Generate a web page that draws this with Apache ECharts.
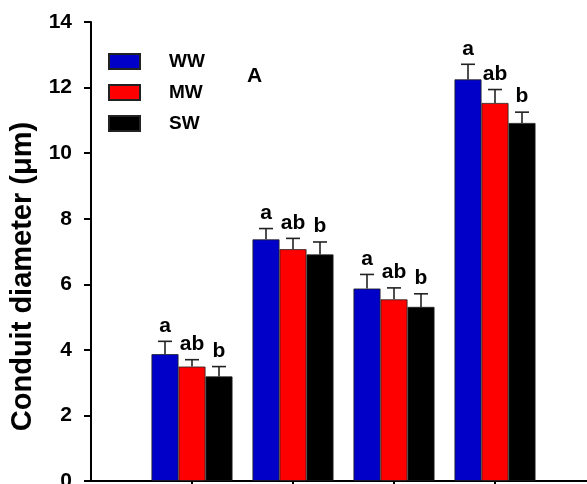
<!DOCTYPE html>
<html>
<head>
<meta charset="utf-8">
<script src="https://cdn.jsdelivr.net/npm/echarts@6/dist/echarts.min.js"></script>
<style>html,body{margin:0;padding:0;background:#fff}#c{width:587px;height:484px}</style>
</head>
<body>
<div id="c"></div>
<script>
// ---- data ----
const categories = ['G1', 'G2', 'G3', 'G4'];
const treatments = ['WW', 'MW', 'SW'];
const wwMean = [3.87, 7.37, 5.87, 12.25];
const wwErr  = [0.39, 0.33, 0.43, 0.46];
const mwMean = [3.49, 7.07, 5.54, 11.53];
const mwErr  = [0.21, 0.33, 0.35, 0.41];
const swMean = [3.19, 6.91, 5.31, 10.92];
const swErr  = [0.30, 0.38, 0.40, 0.33];
const letters = ['a', 'ab', 'b'];
const yTicks = { min: 0, max: 14, interval: 2 };
const panelLabel = 'A';
const yTitle = 'Conduit diameter (\u03bcm)';

// ---- style ----
const FONT = '"Liberation Sans", Arial, sans-serif';
const colors = ['#0000c8', '#ff0000', '#000000'];
const BAR_W = 27;
const means = [wwMean, mwMean, swMean];
const errs = [wwErr, mwErr, swErr];

const barSeries = treatments.map((t, k) => ({
  name: t, type: 'bar', xAxisIndex: 0, yAxisIndex: 0,
  barWidth: BAR_W, barGap: '0%',
  itemStyle: { color: colors[k], borderColor: '#222', borderWidth: 0.8 },
  data: means[k], z: 2
}));

const errSeries = treatments.map((t, k) => ({
  type: 'custom', xAxisIndex: 0, yAxisIndex: 0, z: 5,
  data: categories.map((c, i) => [i, means[k][i], means[k][i] + errs[k][i]]),
  renderItem: function (params, api) {
    const off = (k - 1) * BAR_W;
    const p0 = api.coord([api.value(0), api.value(1)]);
    const p1 = api.coord([api.value(0), api.value(2)]);
    const x = p0[0] + off;
    const st = { stroke: '#222', lineWidth: 1.6 };
    return { type: 'group', children: [
      { type: 'line', shape: { x1: x, y1: p0[1], x2: x, y2: p1[1] }, style: st },
      { type: 'line', shape: { x1: x - 7, y1: p1[1], x2: x + 7, y2: p1[1] }, style: st },
      { type: 'text', style: { text: letters[k], x: x, y: p1[1] - 5, align: 'center', verticalAlign: 'bottom',
          font: 'bold 21px ' + FONT, fill: '#000' } }
    ]};
  }
}));

const chart = echarts.init(document.getElementById('c'), null, { renderer: 'canvas' });
chart.setOption({
  animation: false,
  backgroundColor: '#fff',
  title: { text: panelLabel, left: 247, top: 66, padding: 0,
    textStyle: { fontFamily: FONT, fontWeight: 'bold', fontSize: 21, color: '#000' } },
  legend: {
    data: treatments, orient: 'vertical', left: 108, top: 52, padding: 0,
    itemWidth: 31, itemHeight: 15, itemGap: 12, icon: 'rect',
    textStyle: { fontFamily: FONT, fontWeight: 'bold', fontSize: 19, color: '#000', padding: [0, 0, 0, 24] }
  },
  grid: [
    { left: 141.5, right: 41.5, top: 22, bottom: 3, outerBoundsMode: 'none', containLabel: false },
    { left: 91, right: 0, top: 22, bottom: 3, outerBoundsMode: 'none', containLabel: false }
  ],
  xAxis: [
    { type: 'category', gridIndex: 0, data: categories,
      axisLine: { show: false },
      axisTick: { show: true, alignWithLabel: true, length: 6, lineStyle: { color: '#000', width: 2 } },
      axisLabel: { show: false } },
    { type: 'category', gridIndex: 1, data: categories,
      axisLine: { show: true, lineStyle: { color: '#000', width: 2 } },
      axisTick: { show: false }, axisLabel: { show: false } }
  ],
  yAxis: [
    { type: 'value', gridIndex: 0, min: yTicks.min, max: yTicks.max, interval: yTicks.interval,
      offset: 141.5 - 91,
      name: yTitle, nameLocation: 'middle', nameGap: 51,
      nameTextStyle: { fontFamily: FONT, fontWeight: 'bold', fontSize: 29, color: '#000', padding: [0, 50, 0, 0] },
      axisLine: { show: true, lineStyle: { color: '#000', width: 2 } },
      axisTick: { show: true, length: 7, lineStyle: { color: '#000', width: 2 } },
      axisLabel: { margin: 19, fontFamily: FONT, fontWeight: 'bold', fontSize: 21, color: '#000' },
      splitLine: { show: false } },
    { type: 'value', gridIndex: 1, show: false, min: 0, max: 14 }
  ],
  series: barSeries.concat(errSeries)
});
</script>
</body>
</html>
